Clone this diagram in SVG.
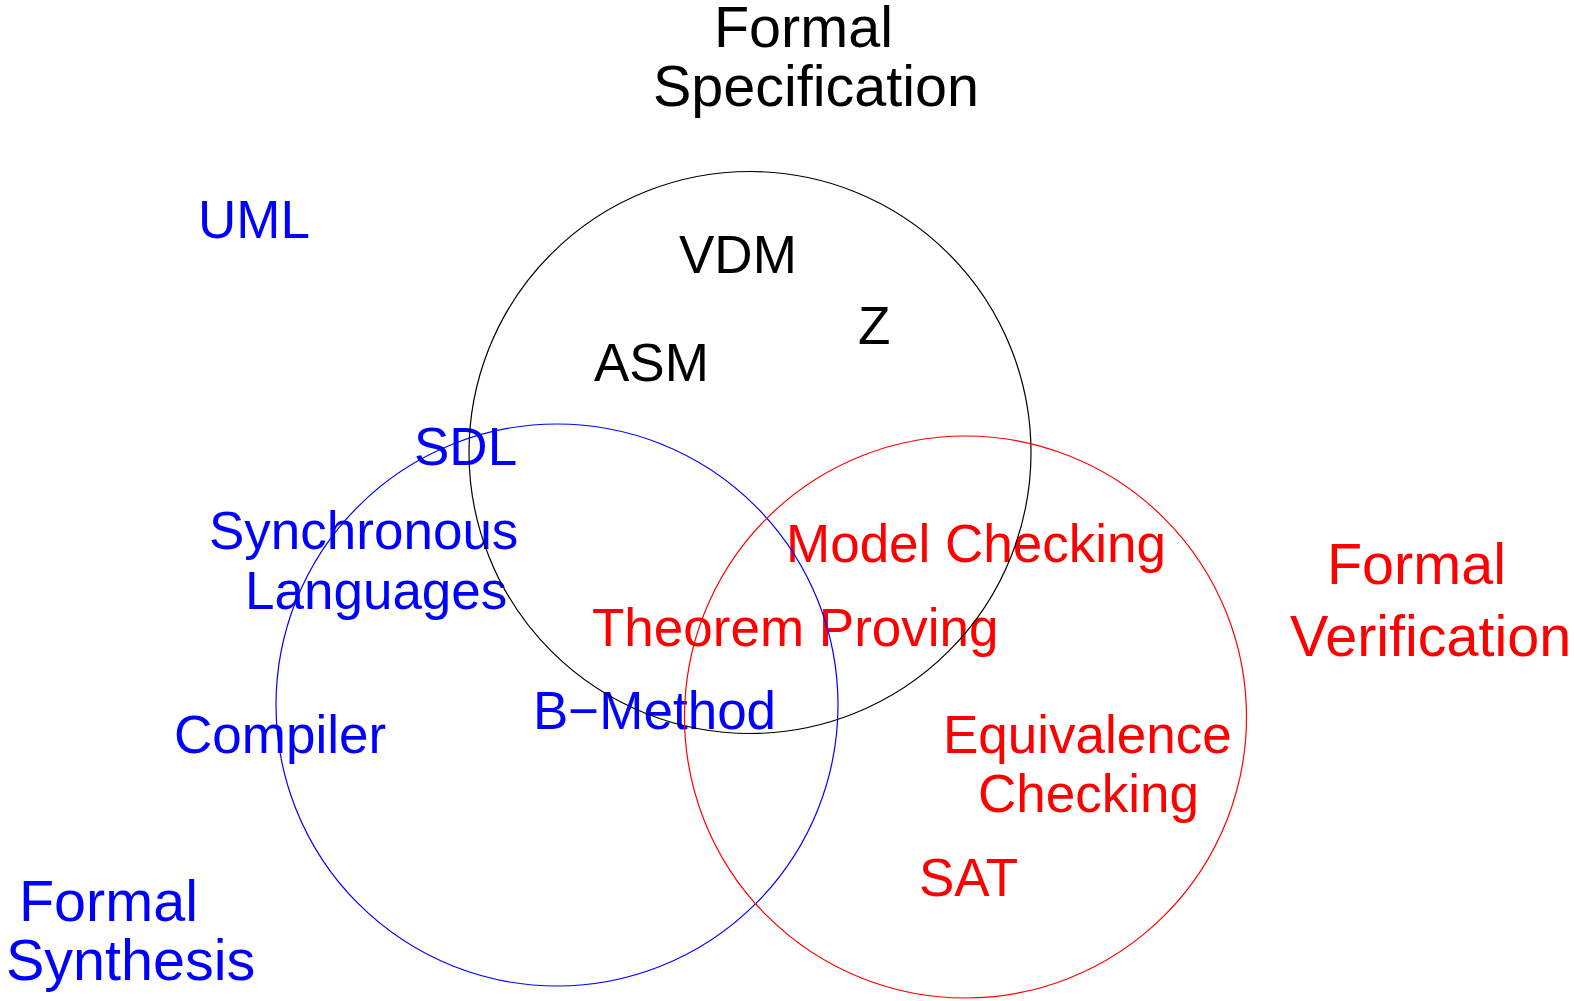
<svg xmlns="http://www.w3.org/2000/svg" width="1574" height="1001" viewBox="0 0 1574 1001">
<style>
text{font-family:"Liberation Sans",Arial,Helvetica,sans-serif;font-size:53px}
text.big{font-size:57.5px}
.k{fill:#000000}.b{fill:#0000ff}.r{fill:#ff0000}
.ring{fill:none;stroke-width:1.2}
</style>
<rect width="1574" height="1001" fill="#ffffff"/>
<g id="labels-spec">
<text class="k big" x="714" y="47">Formal</text>
<text class="k big" x="653" y="106">Specification</text>
<text class="k" x="679" y="273">VDM</text>
<text class="k" x="858" y="344">Z</text>
<text class="k" x="594" y="381">ASM</text>
</g>
<g id="labels-synth">
<text class="b" x="198" y="238">UML</text>
<text class="b" x="414" y="465">SDL</text>
<text class="b" x="209" y="549">Synchronous</text>
<text class="b" x="245" y="609">Languages</text>
<text class="b" x="174" y="753">Compiler</text>
<text class="b" x="533" y="729">B−Method</text>
<text class="b big" x="19" y="921">Formal</text>
<text class="b big" x="6" y="980">Synthesis</text>
</g>
<g id="labels-verif">
<text class="r" x="786" y="562">Model Checking</text>
<text class="r" x="592" y="646">Theorem Proving</text>
<text class="r" x="943" y="753">Equivalence</text>
<text class="r" x="978" y="812">Checking</text>
<text class="r" x="919" y="896">SAT</text>
<text class="r big" x="1327" y="584">Formal</text>
<text class="r big" x="1290" y="656">Verification</text>
</g>
<g id="set-specification"><circle class="ring" cx="750" cy="452.5" r="281" stroke="#000000"/></g>
<g id="set-synthesis"><circle class="ring" cx="557" cy="705" r="281" stroke="#0000ff"/></g>
<g id="set-verification"><circle class="ring" cx="965.5" cy="717" r="281" stroke="#ff0000"/></g>
</svg>
